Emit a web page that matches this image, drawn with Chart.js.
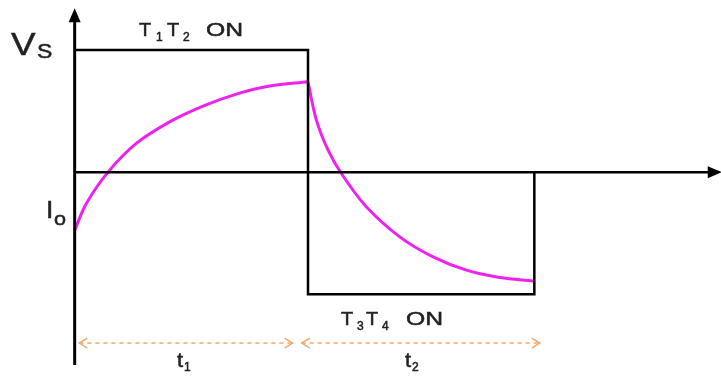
<!DOCTYPE html>
<html>
<head>
<meta charset="utf-8">
<script src="https://cdn.jsdelivr.net/npm/chart.js@4"></script>
<style>
  body { margin: 0; background: #fff; }
  canvas { display: block; }
</style>
</head>
<body>
<canvas id="my-chart" width="721" height="376"></canvas>
<script>
'use strict';

// ******* DATA (time in units of t1, level in units of Vs) *******
let squareTime = [0, 1, 1, 1.97, 1.97];
let squareLevel = [1, 1, -1, -1, 0];

let riseTime = [0, 0.05, 0.143, 0.264, 0.407, 0.55, 0.693, 0.836, 1.0];
let riseCurrent = [-0.475, -0.257, 0, 0.235, 0.412, 0.541, 0.639, 0.705, 0.74];

let fallTime = [1.0, 1.036, 1.086, 1.143, 1.25, 1.393, 1.536, 1.679, 1.822, 1.965];
let fallCurrent = [0.74, 0.426, 0.18, -0.011, -0.284, -0.53, -0.694, -0.803, -0.863, -0.891];

let axisTime = [0, 2.756];
let axisLevel = [-1.58, 1.31];

let spanT1 = [0.02, 0.934];
let spanT2 = [0.973, 1.993];
let spanLevel = -1.4;

// ******* HELPERS *******
function toPoints(xs, ys) {
  let pts = [];
  for (let i = 0; i < xs.length; i++) {
    pts.push({ x: xs[i], y: ys[i] });
  }
  return pts;
}

function lineSet(data, color, width, extra) {
  return Object.assign({
    data: data,
    showLine: true,
    borderColor: color,
    borderWidth: width,
    pointRadius: 0,
    fill: false
  }, extra || {});
}

// each part: text, x, baseline y, font size, horizontal stretch
function drawParts(ctx, parts) {
  for (let i = 0; i < parts.length; i++) {
    let p = parts[i];
    ctx.save();
    ctx.font = p[3] + 'px "Liberation Sans", Arial, sans-serif';
    ctx.translate(p[1], p[2]);
    ctx.scale(p[4] || 1, 1);
    ctx.fillText(p[0], 0, 0);
    ctx.strokeText(p[0], 0, 0); // a bit heavier, like the scan
    ctx.restore();
  }
}

let overlay = {
  id: 'overlay',
  afterDatasetsDraw(chart) {
    let ctx = chart.ctx;
    let sx = chart.scales.x;
    let sy = chart.scales.y;
    let px = (v) => sx.getPixelForValue(v);
    let py = (v) => sy.getPixelForValue(v);

    ctx.save();
    // axis arrow heads
    ctx.fillStyle = '#000';
    let ax = px(0);
    let top = py(axisLevel[1]);
    ctx.beginPath();
    ctx.moveTo(ax, top - 4);
    ctx.lineTo(ax - 6, top + 10);
    ctx.lineTo(ax + 6, top + 10);
    ctx.closePath();
    ctx.fill();

    let ay = py(0);
    let right = px(axisTime[1]);
    ctx.beginPath();
    ctx.moveTo(right + 4, ay);
    ctx.lineTo(right - 10, ay - 6);
    ctx.lineTo(right - 10, ay + 6);
    ctx.closePath();
    ctx.fill();

    // open chevrons on the dashed span arrows
    ctx.strokeStyle = '#f4a86a';
    ctx.lineWidth = 1.5;
    let sl = py(spanLevel);
    let heads = [[spanT1[0], 1], [spanT1[1], -1], [spanT2[0], 1], [spanT2[1], -1]];
    for (let i = 0; i < heads.length; i++) {
      let hx = px(heads[i][0]);
      let d = heads[i][1];
      ctx.beginPath();
      ctx.moveTo(hx + d * 8, sl - 5);
      ctx.lineTo(hx, sl);
      ctx.lineTo(hx + d * 8, sl + 5);
      ctx.stroke();
    }

    // labels
    ctx.fillStyle = '#222';
    ctx.strokeStyle = '#222';
    ctx.lineWidth = 0.5;
    ctx.textBaseline = 'alphabetic';
    drawParts(ctx, [['V', 11, 55, 32, 1.15], ['S', 37, 58, 20, 1.15]]);
    drawParts(ctx, [
      ['T', 139, 36, 19, 1.05], ['1', 156, 41, 12, 1.0],
      ['T', 167, 36, 19, 1.05], ['2', 183, 41, 12, 1.0],
      ['ON', 206, 36, 19, 1.3]
    ]);
    drawParts(ctx, [
      ['T', 341, 325, 19, 1.05], ['3', 357, 330, 12, 1.0],
      ['T', 366, 325, 19, 1.05], ['4', 382, 330, 12, 1.0],
      ['ON', 406, 325, 19, 1.3]
    ]);
    drawParts(ctx, [['I', 46, 218, 24, 1.1], ['o', 54, 225, 18, 1.2]]);
    drawParts(ctx, [['t', 177, 367, 20, 1.1], ['1', 184, 371, 12, 1.0]]);
    drawParts(ctx, [['t', 405, 367, 20, 1.1], ['2', 412, 371, 12, 1.0]]);
    ctx.restore();
  }
};

// ******* CHART *******
let ctx = document.getElementById('my-chart');

new Chart(ctx, { //eslint-disable-line
  type: 'scatter',
  data: {
    datasets: [
      lineSet(toPoints([0, 0], axisLevel), '#000', 3),
      lineSet(toPoints(axisTime, [0, 0]), '#000', 2.5),
      lineSet(toPoints(squareTime, squareLevel), '#000', 2.5),
      lineSet(toPoints(riseTime, riseCurrent), '#ee22ee', 3, { tension: 0.35 }),
      lineSet(toPoints(fallTime, fallCurrent), '#ee22ee', 3, { tension: 0.35 }),
      lineSet(toPoints(spanT1, [spanLevel, spanLevel]), '#f4a86a', 1.5, { borderDash: [4, 4] }),
      lineSet(toPoints(spanT2, [spanLevel, spanLevel]), '#f4a86a', 1.5, { borderDash: [4, 4] })
    ]
  },
  options: {
    responsive: false,
    animation: false,
    layout: { padding: 0 },
    plugins: {
      legend: { display: false },
      tooltip: { enabled: false }
    },
    scales: {
      x: { type: 'linear', min: -0.32, max: 2.77, display: false },
      y: { type: 'linear', min: -1.67, max: 1.41, display: false }
    }
  },
  plugins: [overlay]
});
</script>
</body>
</html>
